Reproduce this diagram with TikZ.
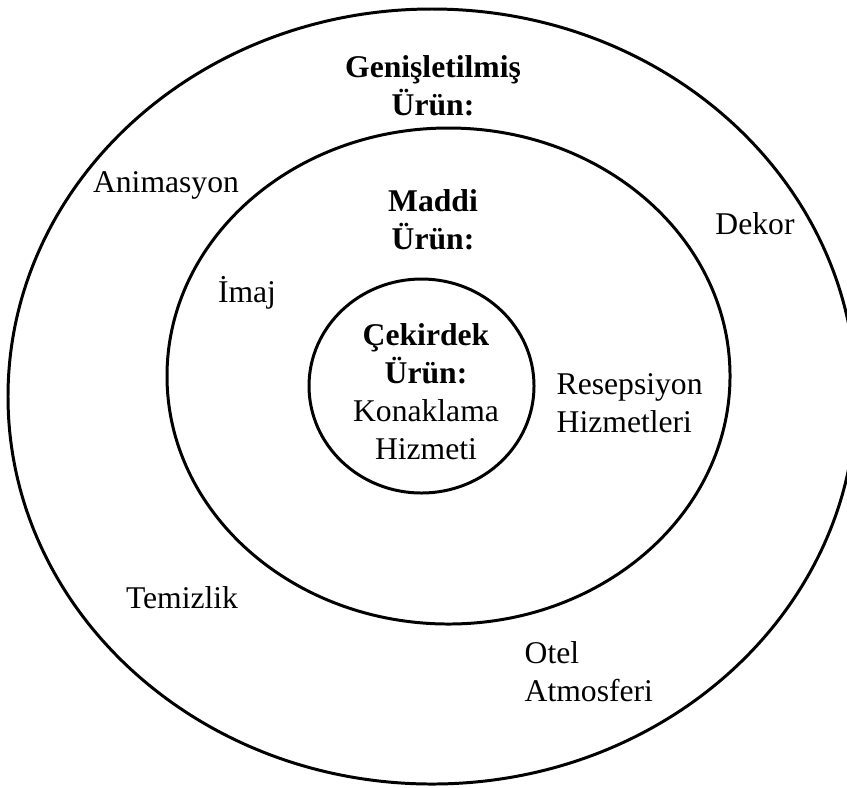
\documentclass[tikz,border=0pt]{standalone}
\usepackage{fontspec}
\setmainfont{Liberation Serif}
\begin{document}
\begin{tikzpicture}[
  every node/.style={font=\fontsize{9}{10.8}\selectfont, align=center, inner sep=0pt},
  ring/.style={draw, line width=0.85pt},
  baslik/.style={font=\fontsize{9}{10.8}\selectfont\bfseries}
]
\useasboundingbox (0,0) rectangle (8.47,7.87);
% halkalar
\draw[ring] (4.32,3.905) ellipse (4.24 and 3.875);
\draw[ring] (4.485,4.11) ellipse (2.815 and 2.48);
\draw[ring] (4.215,4.01) ellipse (1.125 and 1.07);
% basliklar
\node[baslik] (genis) at (4.33,7.01) {Genişletilmiş\\Ürün:};
\node[baslik] (maddi) at (4.33,5.67) {Maddi\\Ürün:};
\node (cekirdek) at (4.26,3.955) {{\bfseries Çekirdek}\\{\bfseries Ürün:}\\Konaklama\\Hizmeti};
% ogeler
\node (animasyon) at (1.66,6.02) {Animasyon};
\node (dekor) at (7.55,5.63) {Dekor};
\node (imaj) at (2.47,4.94) {İmaj};
\node[anchor=west, align=left] (resepsiyon) at (5.56,3.84) {Resepsiyon\\Hizmetleri};
\node (temizlik) at (1.82,1.89) {Temizlik};
\node[anchor=west, align=left] (otel) at (5.24,1.15) {Otel\\Atmosferi};
\end{tikzpicture}
\end{document}
